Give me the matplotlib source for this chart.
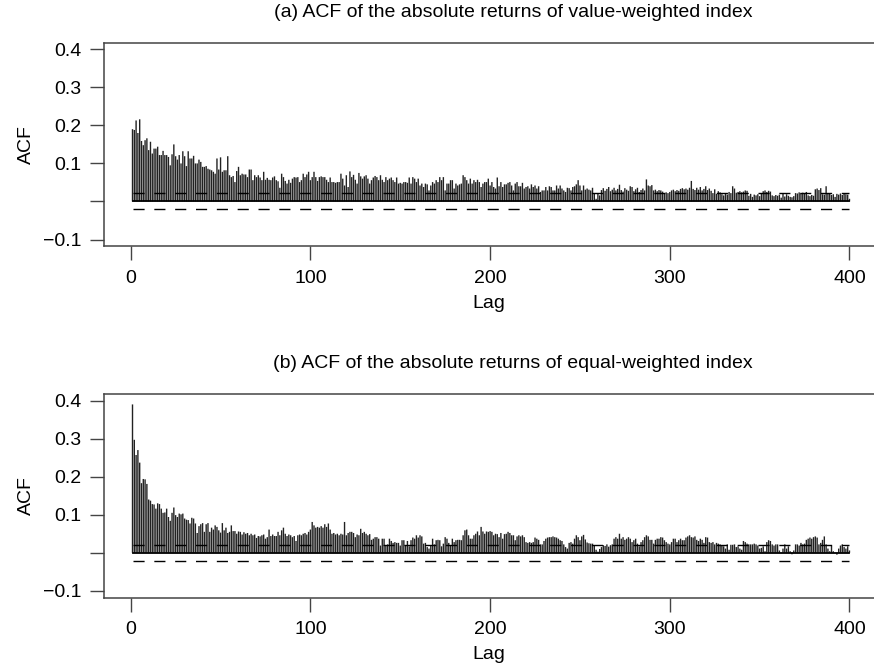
import numpy as np
import matplotlib
matplotlib.use("Agg")
import matplotlib.pyplot as plt

plt.rcParams["font.family"] = ["Liberation Sans", "DejaVu Sans"]
plt.rcParams["font.size"] = 14

# lags 1..400
lags = np.arange(1, 401)

# (a) value-weighted index, sample ACF of |returns|
acf_vw = [
    0.190, 0.188, 0.213, 0.180, 0.216, 0.159, 0.148, 0.161, 0.166, 0.135,
    0.157, 0.126, 0.139, 0.139, 0.144, 0.122, 0.122, 0.133, 0.122, 0.122,
    0.117, 0.095, 0.124, 0.150, 0.119, 0.110, 0.122, 0.100, 0.132, 0.119,
    0.093, 0.132, 0.113, 0.113, 0.120, 0.100, 0.100, 0.110, 0.104, 0.091,
    0.091, 0.093, 0.086, 0.084, 0.082, 0.078, 0.073, 0.113, 0.084, 0.116,
    0.078, 0.082, 0.082, 0.119, 0.069, 0.064, 0.067, 0.051, 0.080, 0.091,
    0.069, 0.073, 0.071, 0.071, 0.064, 0.084, 0.084, 0.056, 0.069, 0.064,
    0.069, 0.063, 0.056, 0.078, 0.057, 0.062, 0.057, 0.056, 0.063, 0.066,
    0.056, 0.053, 0.036, 0.073, 0.064, 0.054, 0.047, 0.057, 0.049, 0.060,
    0.064, 0.063, 0.064, 0.051, 0.056, 0.073, 0.064, 0.071, 0.078, 0.056,
    0.064, 0.078, 0.064, 0.054, 0.064, 0.066, 0.064, 0.064, 0.057, 0.051,
    0.063, 0.051, 0.051, 0.049, 0.051, 0.051, 0.073, 0.060, 0.042, 0.069,
    0.038, 0.079, 0.064, 0.070, 0.057, 0.047, 0.075, 0.066, 0.060, 0.066,
    0.069, 0.060, 0.047, 0.056, 0.063, 0.067, 0.064, 0.056, 0.069, 0.057,
    0.051, 0.064, 0.056, 0.060, 0.063, 0.056, 0.051, 0.063, 0.047, 0.049,
    0.047, 0.051, 0.051, 0.049, 0.063, 0.047, 0.064, 0.060, 0.051, 0.060,
    0.042, 0.047, 0.038, 0.047, 0.045, 0.029, 0.042, 0.051, 0.047, 0.056,
    0.051, 0.064, 0.056, 0.064, 0.029, 0.047, 0.047, 0.056, 0.056, 0.034,
    0.047, 0.042, 0.045, 0.047, 0.069, 0.064, 0.056, 0.047, 0.060, 0.047,
    0.056, 0.051, 0.057, 0.051, 0.038, 0.047, 0.051, 0.051, 0.060, 0.042,
    0.051, 0.038, 0.034, 0.063, 0.040, 0.051, 0.038, 0.045, 0.045, 0.049,
    0.051, 0.042, 0.029, 0.047, 0.051, 0.040, 0.040, 0.049, 0.034, 0.038,
    0.040, 0.034, 0.045, 0.038, 0.042, 0.034, 0.040, 0.025, 0.029, 0.029,
    0.038, 0.029, 0.040, 0.038, 0.029, 0.029, 0.042, 0.034, 0.042, 0.034,
    0.029, 0.025, 0.036, 0.035, 0.029, 0.038, 0.040, 0.045, 0.056, 0.042,
    0.029, 0.042, 0.031, 0.034, 0.031, 0.029, 0.036, 0.020, 0.007, 0.020,
    0.016, 0.030, 0.035, 0.028, 0.033, 0.038, 0.027, 0.031, 0.036, 0.029,
    0.033, 0.044, 0.030, 0.026, 0.035, 0.031, 0.028, 0.040, 0.038, 0.027,
    0.032, 0.036, 0.025, 0.030, 0.034, 0.029, 0.058, 0.042, 0.040, 0.043,
    0.029, 0.031, 0.027, 0.030, 0.029, 0.026, 0.020, 0.024, 0.022, 0.025,
    0.029, 0.031, 0.027, 0.030, 0.028, 0.033, 0.035, 0.032, 0.034, 0.031,
    0.036, 0.054, 0.033, 0.030, 0.036, 0.031, 0.038, 0.029, 0.033, 0.040,
    0.030, 0.034, 0.028, 0.022, 0.032, 0.020, 0.027, 0.024, 0.019, 0.016,
    0.020, 0.018, 0.025, 0.022, 0.040, 0.034, 0.023, 0.025, 0.027, 0.024,
    0.026, 0.029, 0.028, 0.015, 0.020, 0.012, 0.018, 0.016, 0.019, 0.014,
    0.022, 0.027, 0.029, 0.025, 0.028, 0.026, 0.016, 0.014, 0.017, 0.015,
    0.018, 0.010, 0.020, 0.013, 0.019, 0.015, 0.012, 0.011, 0.014, 0.022,
    0.021, 0.024, 0.020, 0.023, 0.022, 0.025, 0.016, 0.014, 0.017, 0.015,
    0.032, 0.034, 0.030, 0.035, 0.019, 0.018, 0.040, 0.020, 0.021, 0.017,
    0.019, 0.012, 0.020, 0.018, 0.021, 0.017, 0.020, 0.019, 0.018, 0.007,
]

# (b) equal-weighted index
acf_ew = [
    0.390, 0.297, 0.257, 0.270, 0.237, 0.183, 0.194, 0.193, 0.181, 0.140,
    0.137, 0.128, 0.127, 0.116, 0.130, 0.128, 0.116, 0.105, 0.106, 0.116,
    0.094, 0.084, 0.105, 0.119, 0.099, 0.094, 0.103, 0.101, 0.103, 0.090,
    0.087, 0.086, 0.077, 0.092, 0.090, 0.077, 0.052, 0.070, 0.075, 0.078,
    0.055, 0.075, 0.078, 0.055, 0.066, 0.061, 0.072, 0.068, 0.059, 0.053,
    0.078, 0.059, 0.066, 0.052, 0.055, 0.072, 0.057, 0.057, 0.050, 0.056,
    0.055, 0.048, 0.054, 0.050, 0.052, 0.046, 0.050, 0.046, 0.048, 0.039,
    0.044, 0.043, 0.046, 0.048, 0.037, 0.041, 0.061, 0.044, 0.048, 0.044,
    0.044, 0.055, 0.046, 0.059, 0.066, 0.050, 0.044, 0.048, 0.046, 0.041,
    0.044, 0.031, 0.046, 0.048, 0.046, 0.050, 0.052, 0.048, 0.055, 0.061,
    0.081, 0.072, 0.066, 0.068, 0.066, 0.070, 0.066, 0.075, 0.068, 0.077,
    0.061, 0.050, 0.052, 0.048, 0.050, 0.046, 0.050, 0.048, 0.081, 0.046,
    0.052, 0.055, 0.055, 0.052, 0.041, 0.048, 0.046, 0.063, 0.052, 0.055,
    0.050, 0.046, 0.049, 0.034, 0.037, 0.041, 0.041, 0.037, 0.019, 0.037,
    0.037, 0.019, 0.022, 0.037, 0.031, 0.026, 0.028, 0.026, 0.026, 0.019,
    0.033, 0.033, 0.019, 0.031, 0.017, 0.033, 0.040, 0.037, 0.046, 0.040,
    0.046, 0.043, 0.024, 0.026, 0.015, 0.011, 0.019, 0.037, 0.022, 0.033,
    0.034, 0.033, 0.017, 0.024, 0.041, 0.037, 0.026, 0.019, 0.037, 0.028,
    0.033, 0.034, 0.034, 0.033, 0.046, 0.059, 0.061, 0.046, 0.037, 0.037,
    0.046, 0.050, 0.056, 0.046, 0.068, 0.056, 0.050, 0.056, 0.055, 0.057,
    0.055, 0.046, 0.050, 0.049, 0.041, 0.052, 0.037, 0.049, 0.050, 0.055,
    0.052, 0.046, 0.046, 0.033, 0.043, 0.046, 0.043, 0.046, 0.041, 0.028,
    0.026, 0.028, 0.026, 0.028, 0.040, 0.037, 0.034, 0.022, 0.022, 0.031,
    0.037, 0.040, 0.041, 0.041, 0.043, 0.041, 0.040, 0.037, 0.033, 0.031,
    0.022, 0.015, 0.011, 0.026, 0.028, 0.024, 0.037, 0.046, 0.041, 0.033,
    0.043, 0.047, 0.035, 0.027, 0.025, 0.024, 0.024, 0.020, 0.008, 0.003,
    0.010, 0.015, 0.020, 0.018, 0.022, 0.016, 0.020, 0.022, 0.037, 0.041,
    0.037, 0.050, 0.037, 0.041, 0.034, 0.037, 0.041, 0.037, 0.028, 0.033,
    0.037, 0.024, 0.017, 0.028, 0.033, 0.041, 0.046, 0.043, 0.034, 0.034,
    0.024, 0.034, 0.037, 0.037, 0.041, 0.040, 0.033, 0.028, 0.024, 0.022,
    0.028, 0.037, 0.037, 0.028, 0.033, 0.037, 0.033, 0.033, 0.040, 0.043,
    0.046, 0.041, 0.040, 0.043, 0.034, 0.031, 0.037, 0.034, 0.026, 0.041,
    0.040, 0.028, 0.026, 0.028, 0.022, 0.026, 0.024, 0.022, 0.019, 0.017,
    0.011, 0.022, 0.008, 0.021, 0.021, 0.022, 0.015, 0.017, 0.011, 0.008,
    0.031, 0.028, 0.024, 0.022, 0.022, 0.022, 0.024, 0.022, 0.019, 0.011,
    0.013, 0.017, 0.004, 0.028, 0.033, 0.031, 0.022, 0.019, 0.022, 0.022,
    0.006, -0.001, 0.011, 0.022, 0.011, 0.017, 0.004, -0.004, 0.006, 0.022,
    0.022, 0.019, 0.026, 0.022, 0.024, 0.034, 0.037, 0.040, 0.037, 0.041,
    0.043, 0.040, 0.022, 0.026, 0.034, 0.043, 0.022, 0.011, 0.004, 0.019,
    0.004, -0.001, -0.005, 0.011, 0.019, 0.022, 0.015, 0.011, 0.017, 0.006,
]

conf_bound = 0.021  # approx 2/sqrt(T)

titles = [
    "(a) ACF of the absolute returns of value-weighted index",
    "(b) ACF of the absolute returns of equal-weighted index",
]
yticks = [-0.1, 0.0, 0.1, 0.2, 0.3, 0.4]
ytick_labels = ["\u22120.1", "", "0.1", "0.2", "0.3", "0.4"]
xticks = [0, 100, 200, 300, 400]

W, H = 874, 669
fig = plt.figure(figsize=(W / 100, H / 100), dpi=100)


def add_panel(top, series, title):
    bottom = top + 203.5
    # right side of the box is cut off by the image edge, as in the original
    ax = fig.add_axes([103.7 / W, 1 - bottom / H, (882 - 103.7) / W, 203.5 / H])
    ax.vlines(lags, 0, series, color="#222222", lw=1.0, snap=False, zorder=2)
    ax.plot([1, 400], [0, 0], color="black", lw=1.3, zorder=3)
    ax.plot([1, 400], [conf_bound, conf_bound], color="black", lw=1.0,
            dashes=(8, 7), zorder=4)
    ax.plot([1, 400], [-conf_bound, -conf_bound], color="black", lw=1.0,
            dashes=(8, 7), zorder=4)
    ax.set_xlim(-15.03, 418.1)
    ax.set_ylim(-0.1176, 0.4174)
    ax.set_yticks(yticks)
    ax.set_yticklabels(ytick_labels)
    ax.set_xticks(xticks)
    ax.tick_params(axis="both", direction="out", length=10, width=1.0,
                   color="#444444", labelsize=14)
    ax.tick_params(axis="y", pad=6)
    ax.tick_params(axis="x", pad=7)
    for s in ax.spines.values():
        s.set_color("#444444")
        s.set_linewidth(1.1)
    # title centered on the (cropped) plot region
    fig.text(513 / W, 1 - (top - 30) / H, title, ha="center", va="center",
             fontsize=14)
    fig.text(489 / W, 1 - (bottom + 57) / H, "Lag", ha="center",
             va="center", fontsize=14)
    fig.text(26 / W, 1 - (top + bottom) / 2 / H, "ACF", ha="center",
             va="center", rotation=90, fontsize=14)
    return ax


add_panel(42.7, acf_vw, titles[0])
add_panel(394.0, acf_ew, titles[1])

fig.savefig("out.png", dpi=100)
